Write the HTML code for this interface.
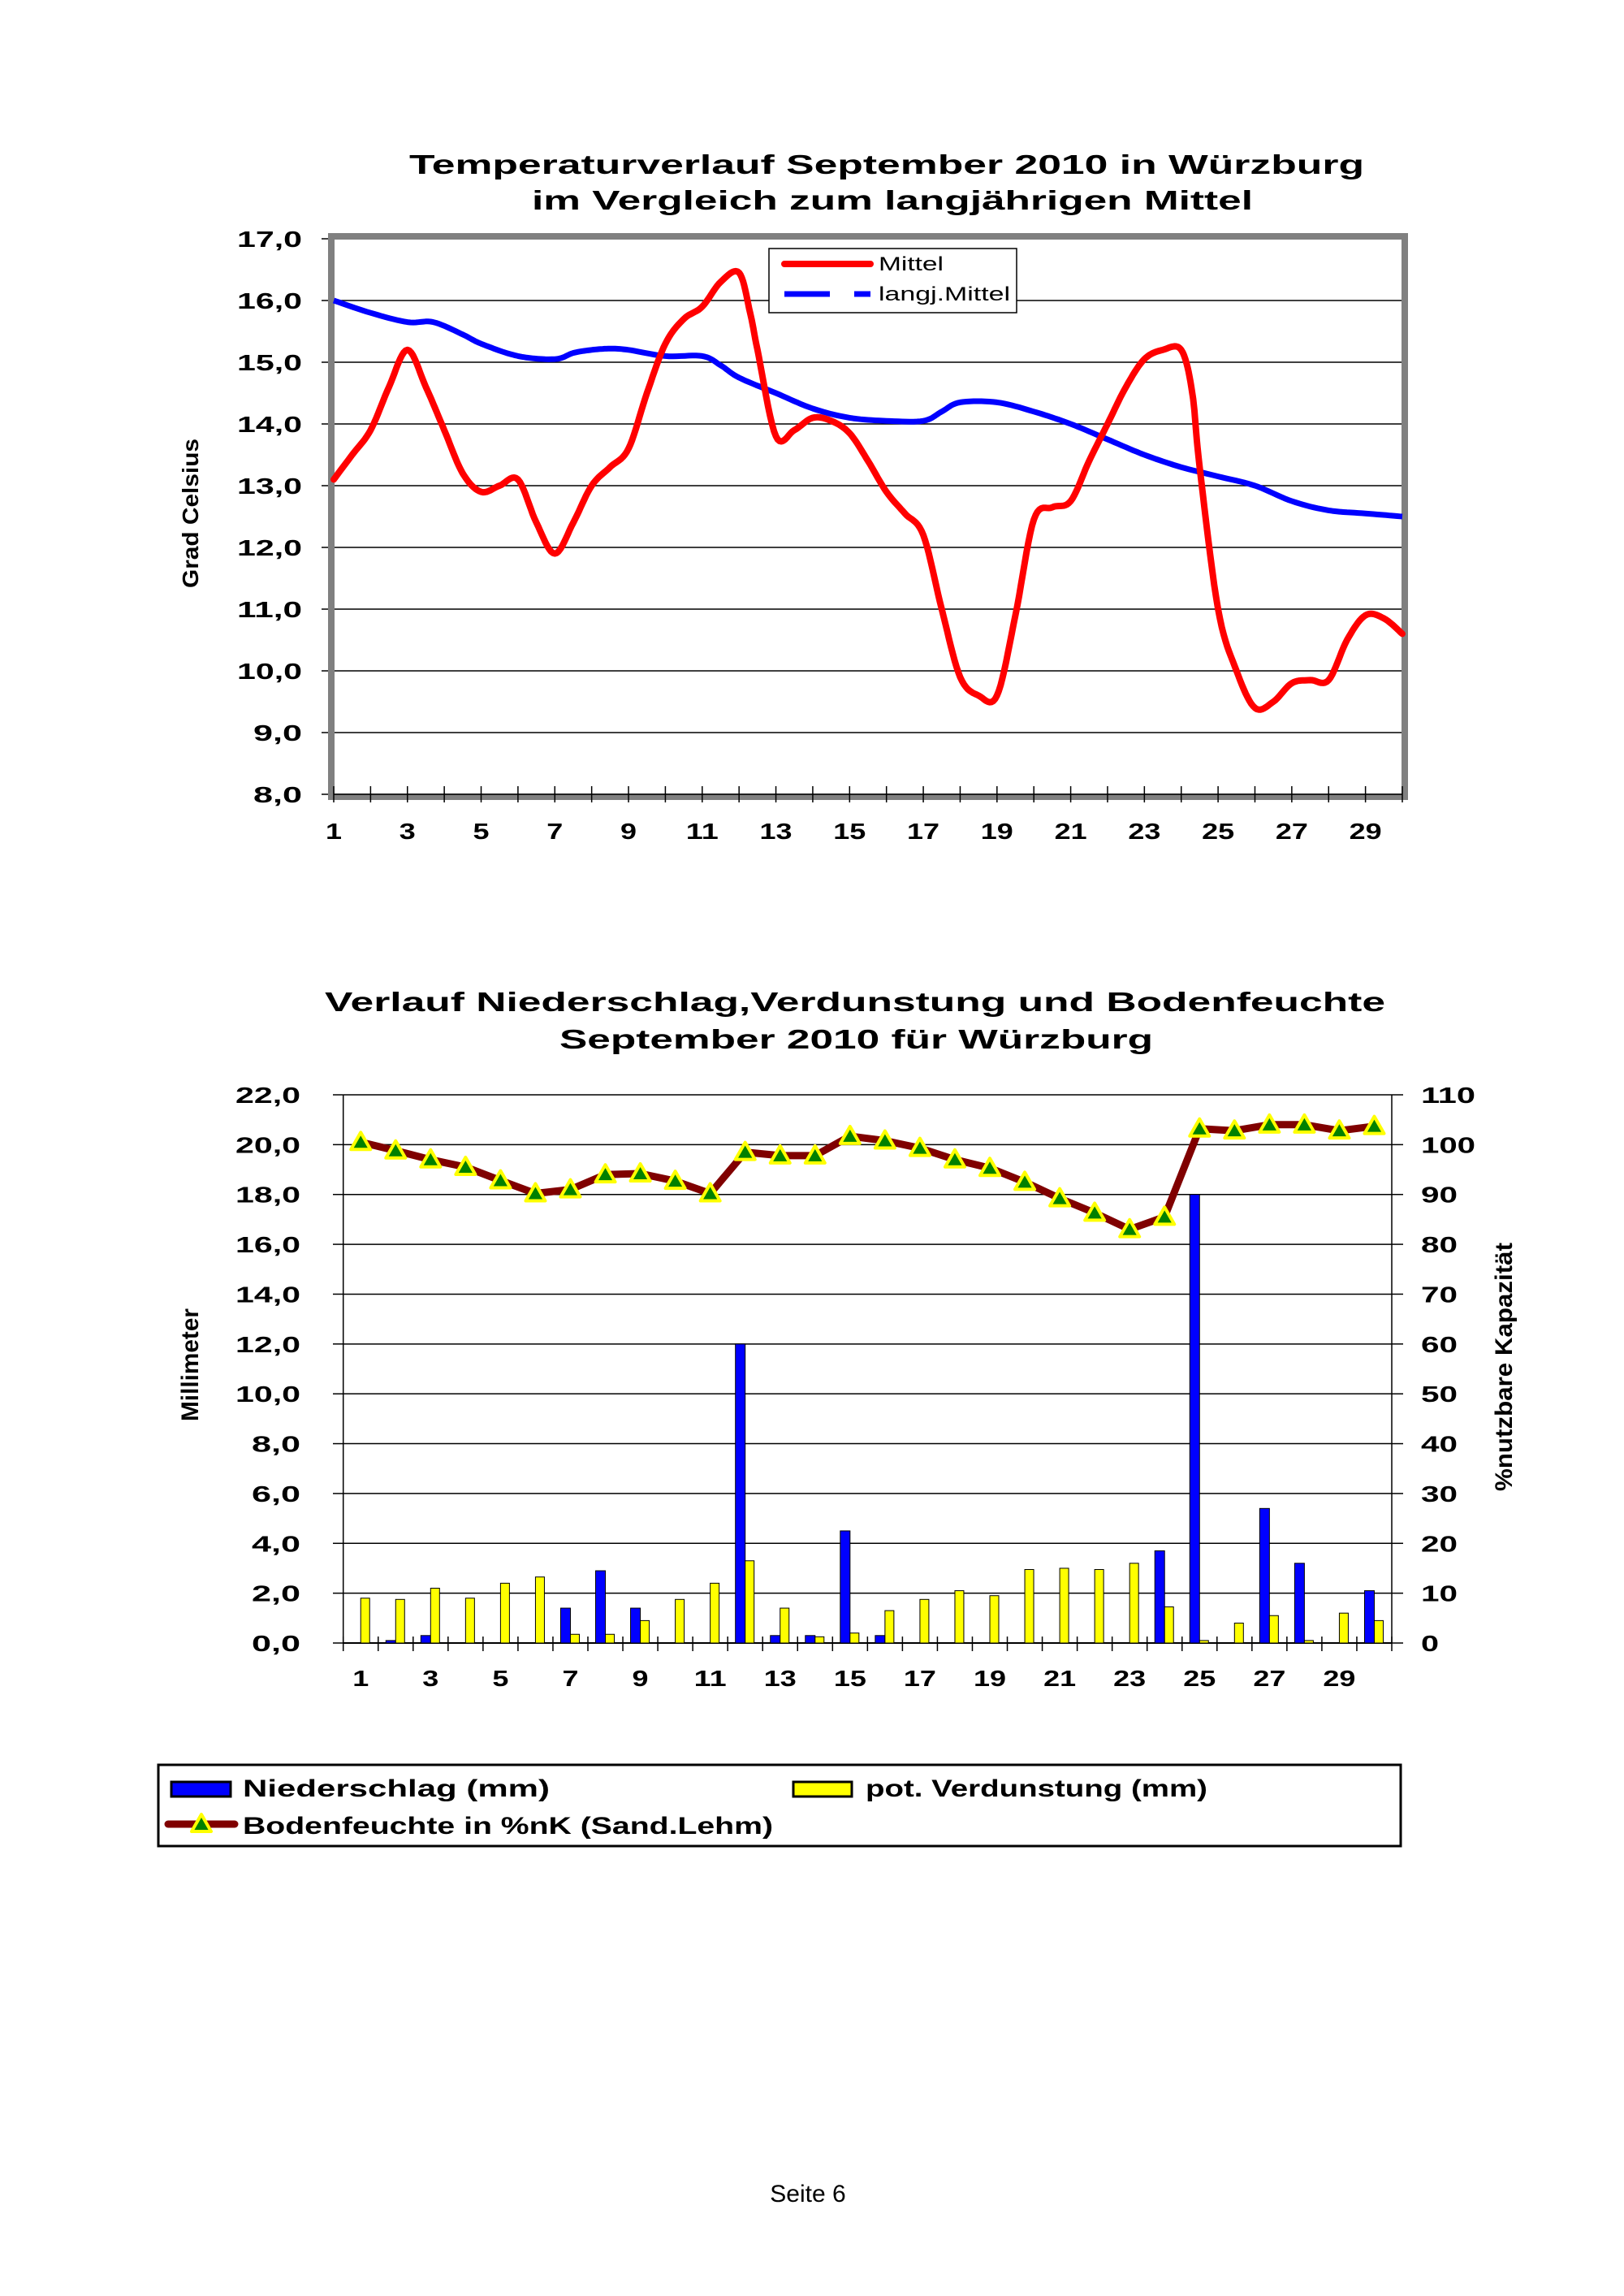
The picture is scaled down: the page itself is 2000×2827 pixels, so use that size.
<!DOCTYPE html>
<html><head><meta charset="utf-8"><style>
html,body{margin:0;padding:0;background:#fff}
svg{display:block}
text{font-family:"Liberation Sans",Arial,sans-serif}
</style></head><body>
<svg id="s" width="2000" height="2827" viewBox="0 0 2000 2827" xmlns="http://www.w3.org/2000/svg">
<rect width="2000" height="2827" fill="#fff"/>
<g font-weight="bold" fill="#000">
<text x="504" y="214" font-size="33" textLength="1176" lengthAdjust="spacingAndGlyphs">Temperaturverlauf September 2010 in Würzburg</text>
<text x="655" y="258" font-size="33" textLength="888" lengthAdjust="spacingAndGlyphs">im Vergleich zum langjährigen Mittel</text>
<text x="400" y="1245" font-size="33" textLength="1306" lengthAdjust="spacingAndGlyphs">Verlauf Niederschlag,Verdunstung und Bodenfeuchte</text>
<text x="689" y="1291" font-size="33" textLength="731" lengthAdjust="spacingAndGlyphs">September 2010 für Würzburg</text>
<text transform="translate(244,724) rotate(-90)" font-size="28" textLength="184" lengthAdjust="spacingAndGlyphs">Grad Celsius</text>
<text transform="translate(244,1750) rotate(-90)" font-size="30" textLength="139" lengthAdjust="spacingAndGlyphs">Millimeter</text>
<text transform="translate(1862,1836) rotate(-90)" font-size="30" textLength="306" lengthAdjust="spacingAndGlyphs">%nutzbare Kapazität</text>
</g>
<text x="995" y="2711" font-size="30" text-anchor="middle" fill="#000">Seite 6</text>
<g id="g"></g>
</svg>
<script>
var g=document.getElementById('g'),h='';
function T(x,y,s,sz,len,anc){h+='<text x="'+x+'" y="'+y+'" font-size="'+sz+'" font-weight="bold" text-anchor="'+(anc||'start')+'"'+(len?' textLength="'+len+'" lengthAdjust="spacingAndGlyphs"':'')+'>'+s+'</text>';}
var L=411,R=1727,Y0=978,U=76;
function ty(v){return Y0-(v-8)*U;}
function tx(d){return L+(d-1)*(R-L)/29;}
for(var v=8;v<=17;v++){var y=ty(v);
 if(v>8&&v<17)h+='<line x1="'+L+'" y1="'+y+'" x2="'+R+'" y2="'+y+'" stroke="#000" stroke-width="1.5"/>';
 h+='<line x1="396" y1="'+y+'" x2="'+L+'" y2="'+y+'" stroke="#000" stroke-width="1.5"/>';
 T(372,y+10,v+',0',28,v<10?60:80,'end');}
h+='<rect x="'+(L-3)+'" y="'+(ty(17)-3)+'" width="'+(R-L+6)+'" height="'+(Y0-ty(17)+6)+'" fill="none" stroke="#808080" stroke-width="8"/>';
h+='<line x1="'+L+'" y1="'+Y0+'" x2="'+R+'" y2="'+Y0+'" stroke="#000" stroke-width="1.5"/>';
for(var d=1;d<=30;d++){var x=tx(d);h+='<line x1="'+x+'" y1="'+(Y0-10)+'" x2="'+x+'" y2="'+(Y0+10)+'" stroke="#000" stroke-width="1.5"/>';
 if(d%2)T(x,1033,d,28,d<10?20:40,'middle');}
var red=[[1,13.1],[1.5,13.5],[2,13.9],[2.5,14.6],[3,15.2],[3.5,14.6],[4,13.9],[4.5,13.2],[5,12.9],[5.5,13.0],[6,13.1],[6.5,12.4],[7,11.9],[7.5,12.4],[8,13.0],[8.5,13.3],[9,13.6],[9.5,14.5],[10,15.3],[10.5,15.7],[11,15.9],[11.5,16.3],[12,16.45],[12.3,15.8],[12.5,15.2],[13,13.8],[13.5,13.9],[14,14.1],[14.5,14.05],[15,13.85],[15.5,13.4],[16,12.9],[16.5,12.55],[17,12.2],[17.5,11.0],[18,9.9],[18.5,9.6],[19,9.6],[19.5,10.9],[20,12.45],[20.5,12.65],[21,12.75],[21.5,13.4],[22,14.0],[22.5,14.6],[23,15.05],[23.5,15.2],[24,15.2],[24.3,14.5],[24.5,13.3],[25,11.0],[25.5,10.0],[26,9.4],[26.5,9.5],[27,9.8],[27.5,9.85],[28,9.85],[28.5,10.5],[29,10.9],[29.5,10.85],[30,10.6]];
var blue=[[1,16.0],[2,15.8],[3,15.65],[3.7,15.65],[4.5,15.45],[5,15.3],[6,15.1],[7,15.05],[7.5,15.15],[8,15.2],[8.5,15.22],[9,15.2],[10,15.1],[11,15.1],[11.5,14.95],[12,14.75],[13,14.5],[14,14.25],[15,14.1],[16,14.05],[17,14.05],[17.5,14.2],[18,14.35],[19,14.35],[20,14.2],[21,14.0],[22,13.75],[23,13.5],[24,13.3],[25,13.15],[26,13.0],[27,12.75],[28,12.6],[29,12.55],[30,12.5]];
function smooth(p){var o=[];for(var i=0;i<p.length-1;i++){var p0=p[Math.max(0,i-1)],p1=p[i],p2=p[i+1],p3=p[Math.min(p.length-1,i+2)];
 for(var t=0;t<1;t+=0.1){var t2=t*t,t3=t2*t;function c(k){return 0.5*((2*p1[k])+(-p0[k]+p2[k])*t+(2*p0[k]-5*p1[k]+4*p2[k]-p3[k])*t2+(-p0[k]+3*p1[k]-3*p2[k]+p3[k])*t3);}
 o.push(tx(c(0)).toFixed(1)+','+ty(c(1)).toFixed(1));}}
 var l=p[p.length-1];o.push(tx(l[0])+','+ty(l[1]));return o.join(' ');}
h+='<polyline points="'+smooth(blue)+'" fill="none" stroke="#0000ff" stroke-width="7" stroke-linejoin="round"/>';
h+='<polyline points="'+smooth(red)+'" fill="none" stroke="#ff0000" stroke-width="8" stroke-linejoin="round" stroke-linecap="round"/>';
h+='<rect x="947" y="306" width="305" height="79" fill="#fff" stroke="#000" stroke-width="1.5"/>';
h+='<line x1="966" y1="325" x2="1072" y2="325" stroke="#ff0000" stroke-width="8" stroke-linecap="round"/>';
h+='<line x1="966" y1="362" x2="1022" y2="362" stroke="#0000ff" stroke-width="7"/><line x1="1052" y1="362" x2="1072" y2="362" stroke="#0000ff" stroke-width="7"/>';
h+='<text x="1082" y="333" font-size="24" textLength="80" lengthAdjust="spacingAndGlyphs">Mittel</text>';
h+='<text x="1082" y="370" font-size="24" textLength="162" lengthAdjust="spacingAndGlyphs">langj.Mittel</text>';
var BL=422.7,BR=1714,B0=2023,BU=(2023-1348)/22,W=(BR-BL)/30;
function by(v){return B0-v*BU;}
for(var v=0;v<=22;v+=2){var y=by(v);
 if(v>0)h+='<line x1="'+BL+'" y1="'+y+'" x2="'+BR+'" y2="'+y+'" stroke="#000" stroke-width="1.5"/>';
 h+='<line x1="410" y1="'+y+'" x2="'+BL+'" y2="'+y+'" stroke="#000" stroke-width="1.5"/><line x1="'+BR+'" y1="'+y+'" x2="'+(BR+14)+'" y2="'+y+'" stroke="#000" stroke-width="1.5"/>';
 T(370,y+10,v+',0',28,v<10?60:80,'end');T(1750,y+10,v*5,28,v*5>=100?67:(v?45:22));}
h+='<line x1="'+BL+'" y1="'+B0+'" x2="'+BR+'" y2="'+B0+'" stroke="#000" stroke-width="2"/>';
h+='<line x1="'+BL+'" y1="1348" x2="'+BL+'" y2="'+B0+'" stroke="#000" stroke-width="1.5"/><line x1="'+BR+'" y1="1348" x2="'+BR+'" y2="'+B0+'" stroke="#000" stroke-width="1.5"/>';
for(var d=0;d<=30;d++){var x=BL+d*W;h+='<line x1="'+x+'" y1="'+(B0-8)+'" x2="'+x+'" y2="'+(B0+10)+'" stroke="#000" stroke-width="1.5"/>';}
for(var d=1;d<=30;d+=2)T(BL+(d-0.5)*W,2076,d,28,d<10?20:40,'middle');
var ns={2:0.1,3:0.3,7:1.4,8:2.9,9:1.4,12:12,13:0.3,14:0.3,15:4.5,16:0.3,24:3.7,25:18,27:5.4,28:3.2,30:2.1};
var vd=[1.8,1.75,2.2,1.8,2.4,2.65,0.35,0.35,0.9,1.75,2.4,3.3,1.4,0.25,0.4,1.3,1.75,2.1,1.9,2.95,3.0,2.95,3.2,1.45,0.1,0.8,1.1,0.1,1.2,0.9];
for(var d=1;d<=30;d++){var c=BL+(d-0.5)*W;
 if(ns[d])h+='<rect x="'+(c-12)+'" y="'+by(ns[d])+'" width="12" height="'+(ns[d]*BU)+'" fill="#0000ff" stroke="#000" stroke-width="1"/>';
 h+='<rect x="'+c+'" y="'+by(vd[d-1])+'" width="11" height="'+(vd[d-1]*BU)+'" fill="#ffff00" stroke="#000" stroke-width="1"/>';}
var bf=[100.5,98.8,97,95.5,92.8,90.2,91,94,94.2,92.7,90.2,98.5,97.8,97.8,101.7,100.8,99.3,97,95.3,92.5,89.2,86.3,83,85.5,103.2,102.8,104,104,102.8,103.7];
var pts=bf.map(function(v,i){return (BL+(i+0.5)*W).toFixed(1)+','+by(v/5).toFixed(1);});
h+='<polyline points="'+pts.join(' ')+'" fill="none" stroke="#800000" stroke-width="9" stroke-linejoin="round"/>';
function tri(x,y){return '<polygon points="'+x+','+(y-12)+' '+(x+12)+','+(y+9)+' '+(x-12)+','+(y+9)+'" fill="#008000" stroke="#ffff00" stroke-width="4" stroke-linejoin="round"/>';}
bf.forEach(function(v,i){h+=tri(BL+(i+0.5)*W,by(v/5));});
h+='<rect x="195" y="2173" width="1530" height="100" fill="#fff" stroke="#000" stroke-width="3"/>';
h+='<rect x="211" y="2194" width="73" height="18" fill="#0000ff" stroke="#000" stroke-width="3"/>';
h+='<rect x="977" y="2194" width="72" height="18" fill="#ffff00" stroke="#000" stroke-width="3"/>';
h+='<line x1="207" y1="2246" x2="289" y2="2246" stroke="#800000" stroke-width="9" stroke-linecap="round"/>'+tri(248,2246);
T(299,2212,'Niederschlag (mm)',30,378);T(1066,2212,'pot. Verdunstung (mm)',30,421);T(299,2258,'Bodenfeuchte in %nK (Sand.Lehm)',30,653);
g.innerHTML=h;
</script>
</body></html>
